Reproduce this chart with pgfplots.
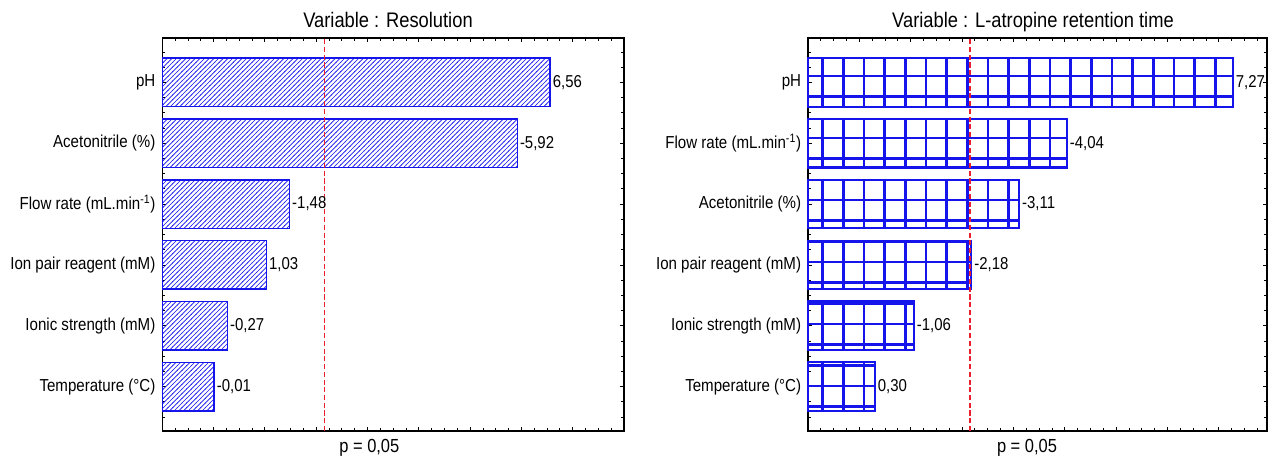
\documentclass[border=0pt]{standalone}
\usepackage{pgfplots}
\pgfplotsset{compat=1.18}
\usepackage{pgfplotstable}
\usepackage{fontspec}
\setmainfont{Liberation Sans}[FakeStretch=0.87]
\usetikzlibrary{patterns}
\definecolor{barblue}{RGB}{20,20,235}
\definecolor{refred}{RGB}{235,30,45}
\newcommand\lblfont{\fontsize{13}{15}\selectfont}
\newcommand\valfont{\fontsize{12.9}{15}\selectfont}

\pgfdeclarepatternformonly{biggrid}{\pgfqpoint{-1pt}{-1pt}}{\pgfqpoint{16.5pt}{16.5pt}}{\pgfqpoint{15.5pt}{15.5pt}}{%
  \pgfsetlinewidth{1.9pt}%
  \pgfpathmoveto{\pgfqpoint{12.5pt}{-1pt}}\pgfpathlineto{\pgfqpoint{12.5pt}{16.5pt}}%
  \pgfpathmoveto{\pgfqpoint{-1pt}{8.25pt}}\pgfpathlineto{\pgfqpoint{16.5pt}{8.25pt}}%
  \pgfusepath{stroke}}

\pgfdeclarepatternformonly{hatch}{\pgfqpoint{-1pt}{-1pt}}{\pgfqpoint{4.5pt}{4.5pt}}{\pgfqpoint{3.5pt}{3.5pt}}{%
  \pgfsetlinewidth{0.5pt}%
  \pgfpathmoveto{\pgfqpoint{-0.2pt}{-0.2pt}}\pgfpathlineto{\pgfqpoint{3.7pt}{3.7pt}}%
  \pgfusepath{stroke}}

\pgfplotstableread{
pos val lab
5 6.56 6,56
4 5.92 -5,92
3 1.48 -1,48
2 1.03 1,03
1 0.27 -0,27
0 0.01 -0,01
}\resdata

\pgfplotstableread{
pos val lab
5 7.27 7,27
4 4.04 -4,04
3 3.11 -3,11
2 2.18 -2,18
1 1.06 -1,06
0 0.30 0,30
}\retdata

\pgfplotsset{
  pareto/.style={
    scale only axis,
    height=294.75pt,
    xmin=-1,
    ymin=-0.73, ymax=5.73,
    x coord trafo/.code={\pgfmathparse{##1+1}},
    x coord inv trafo/.code={\pgfmathparse{##1-1}},
    xtick={-1,0,...,8}, xticklabels={},
    minor x tick num=3,
    ytick={0,...,5},
    minor ytick={-0.5,-0.25,...,5.5},
    tick align=inside,
    major tick length=3pt, minor tick length=2pt,
    axis line style={line width=0.9pt},
    every tick/.style={black, line width=0.6pt},
    yticklabel style={font=\lblfont, inner xsep=5pt},
    clip=false,
  },
  barstyle/.style={
    xbar, bar width=36.4pt,
    nodes near coords,
    nodes near coords align={horizontal},
    point meta=explicit symbolic,
    every node near coord/.append style={font=\valfont, anchor=west, inner xsep=1.5pt, text=black},
  },
}

\begin{document}
\begin{tikzpicture}
\path[use as bounding box] (0,0) rectangle (951pt,344.25pt);

\begin{axis}[pareto, at={(121.7pt,21pt)}, anchor=south west,
  width=346.3pt, xmax=8,
  yticklabels={{Temperature (°C)},{Ionic strength (mM)},{Ion pair reagent (mM)},{Flow rate (mL.min\textsuperscript{-1})},{Acetonitrile (\%)},{pH}}]
\addplot[barstyle, draw=barblue, line width=1.1pt,
  pattern color=barblue, pattern=hatch]
  table[x=val, y=pos, meta=lab] {\resdata};
\addplot[refred, line width=1.3pt, dash pattern=on 3.8pt off 2pt]
  coordinates {(2.16,-0.73) (2.16,5.73)};
\end{axis}

\begin{axis}[pareto, at={(606pt,21pt)}, anchor=south west,
  width=344.3pt, xmax=7.94,
  yticklabels={{Temperature (°C)},{Ionic strength (mM)},{Ion pair reagent (mM)},{Acetonitrile (\%)},{Flow rate (mL.min\textsuperscript{-1})},{pH}}]
\addplot[barstyle, draw=barblue, line width=1.7pt,
  pattern color=barblue, pattern=biggrid]
  table[x=val, y=pos, meta=lab] {\retdata};
\addplot[refred, line width=1.3pt, dash pattern=on 3.8pt off 2pt]
  coordinates {(2.16,-0.73) (2.16,5.73)};
\end{axis}

\node[anchor=base, font=\fontsize{15.8}{18}\selectfont] at (291pt,323.25pt) {Variable : Resolution};
\node[anchor=base, font=\fontsize{15.8}{18}\selectfont] at (774.75pt,323.25pt) {Variable : L-atropine retention time};
\node[anchor=base, font=\fontsize{14.2}{16}\selectfont] at (277pt,5pt) {p = 0,05};
\node[anchor=base, font=\fontsize{14.2}{16}\selectfont] at (770.25pt,5pt) {p = 0,05};
\end{tikzpicture}
\end{document}
